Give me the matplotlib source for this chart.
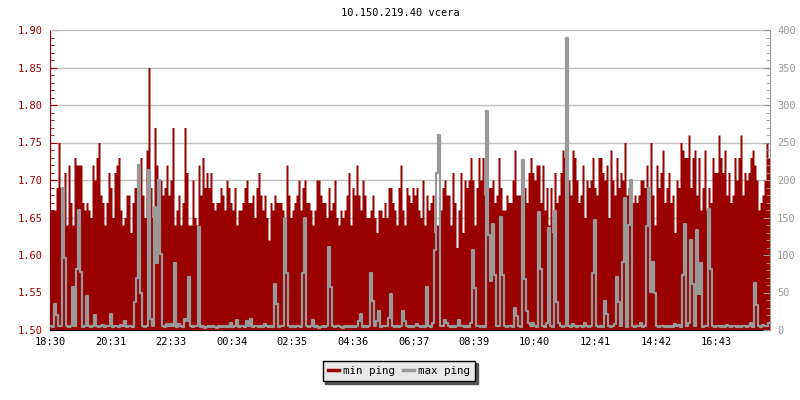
import numpy as np
import matplotlib.pyplot as plt
from matplotlib.lines import Line2D

# one sample every 4 minutes, 18:30 .. 18:30 next day
STEP_MIN = 4

# min ping in hundredths above 1.00 (66 -> 1.66 ms)
min_ping_cs = [
    66, 66, 66, 69, 75, 69, 67, 71, 64, 72, 67, 64, 73, 72, 72, 72, 67, 66, 67, 66,
    65, 72, 70, 73, 75, 68, 67, 64, 67, 71, 69, 65, 71, 72, 73, 66, 64, 65, 68, 68,
    63, 67, 69, 69, 67, 73, 68, 65, 74, 85, 69, 65, 77, 72, 64, 70, 68, 69, 72, 68,
    70, 77, 64, 66, 68, 64, 67, 77, 71, 64, 64, 70, 65, 64, 72, 68, 73, 69, 71, 69,
    71, 67, 66, 67, 67, 69, 68, 66, 70, 69, 67, 66, 69, 64, 66, 66, 67, 69, 70, 67,
    67, 68, 65, 69, 71, 68, 66, 68, 65, 62, 67, 66, 68, 67, 67, 67, 66, 65, 72, 68,
    65, 66, 67, 68, 70, 66, 69, 70, 67, 67, 66, 64, 66, 70, 70, 68, 67, 67, 65, 69,
    66, 67, 70, 65, 64, 66, 65, 66, 68, 71, 64, 69, 68, 72, 68, 66, 70, 68, 65, 65,
    66, 68, 65, 63, 66, 66, 65, 67, 65, 69, 69, 67, 66, 64, 69, 72, 66, 64, 69, 68,
    67, 69, 68, 69, 66, 65, 70, 64, 68, 66, 67, 68, 63, 64, 64, 66, 69, 70, 68, 68,
    64, 71, 67, 61, 66, 71, 63, 70, 69, 70, 73, 70, 64, 69, 73, 70, 73, 68, 67, 69,
    69, 70, 67, 68, 73, 69, 66, 66, 68, 67, 67, 70, 74, 68, 68, 68, 66, 69, 67, 71,
    73, 71, 70, 72, 72, 67, 72, 66, 69, 64, 69, 63, 71, 67, 68, 71, 74, 73, 67, 70,
    68, 74, 73, 70, 67, 68, 72, 65, 70, 69, 70, 73, 69, 68, 73, 73, 71, 70, 72, 65,
    74, 70, 68, 73, 69, 71, 70, 75, 68, 69, 70, 67, 68, 67, 68, 70, 70, 69, 72, 69,
    75, 68, 64, 72, 69, 71, 74, 67, 69, 71, 67, 68, 63, 70, 69, 75, 74, 73, 73, 76,
    69, 73, 74, 68, 73, 66, 69, 74, 66, 69, 67, 73, 71, 71, 76, 73, 71, 74, 68, 71,
    67, 68, 73, 70, 73, 76, 68, 71, 70, 71, 73, 74, 72, 70, 66, 67, 68, 70, 75, 73,
]

# max ping in ms (right axis)
max_ping = [
    5, 4, 35, 20, 6, 5, 189, 96, 5, 4, 6, 58, 5, 82, 160, 78, 4, 6, 45, 5,
    4, 5, 20, 6, 4, 5, 7, 4, 5, 6, 22, 4, 5, 6, 4, 7, 5, 12, 4, 5,
    6, 4, 38, 69, 220, 49, 5, 4, 6, 213, 15, 5, 164, 89, 200, 102, 6, 4, 8, 5,
    8, 5, 89, 4, 8, 5, 4, 15, 12, 71, 5, 4, 6, 5, 138, 4, 5, 3, 4, 6,
    4, 5, 4, 3, 5, 4, 6, 4, 5, 4, 10, 4, 5, 14, 4, 6, 5, 4, 12, 5,
    15, 4, 5, 6, 4, 5, 4, 8, 5, 4, 5, 4, 62, 35, 4, 5, 6, 149, 76, 5,
    4, 5, 4, 6, 5, 4, 76, 149, 5, 4, 5, 14, 4, 5, 3, 4, 5, 4, 6, 111,
    58, 5, 4, 6, 5, 4, 3, 5, 4, 5, 4, 5, 4, 5, 12, 22, 4, 5, 4, 6,
    76, 39, 5, 12, 25, 4, 5, 6, 5, 16, 48, 5, 4, 5, 4, 6, 26, 12, 5, 4,
    5, 4, 6, 8, 5, 4, 5, 4, 58, 5, 4, 10, 107, 209, 260, 6, 5, 14, 9, 5,
    4, 5, 4, 6, 14, 6, 5, 4, 5, 4, 9, 107, 56, 5, 6, 4, 5, 4, 292, 127,
    66, 142, 73, 5, 6, 151, 73, 5, 4, 6, 5, 4, 30, 19, 5, 4, 227, 68, 26, 10,
    6, 10, 5, 4, 158, 81, 5, 4, 9, 136, 5, 4, 159, 38, 10, 5, 4, 6, 390, 5,
    4, 8, 5, 4, 6, 5, 4, 9, 5, 4, 5, 76, 147, 6, 4, 5, 4, 39, 22, 5,
    4, 6, 8, 71, 38, 5, 91, 176, 4, 140, 200, 5, 4, 6, 5, 9, 4, 5, 139, 189,
    51, 91, 49, 5, 4, 6, 5, 4, 5, 4, 5, 4, 8, 5, 7, 4, 74, 142, 5, 10,
    120, 62, 5, 134, 48, 89, 4, 5, 6, 162, 82, 5, 4, 6, 5, 4, 5, 4, 7, 5,
    4, 6, 5, 4, 5, 4, 6, 5, 4, 5, 9, 4, 63, 34, 5, 4, 7, 5, 6, 9,
]

time_labels = ['18:30', '20:31', '22:33', '00:34', '02:35', '04:36',
               '06:37', '08:39', '10:40', '12:41', '14:42', '16:43']
TICK_STEP_MIN = 121.2

RED = '#990000'
GREY = '#999999'


def main():
    plt.rcParams['font.family'] = 'DejaVu Sans Mono'
    plt.rcParams['font.size'] = 7.5

    mn = 1 + np.array(min_ping_cs) / 100.0
    mx = np.array(max_ping, dtype=float)
    edges = np.arange(len(mn) + 1) * STEP_MIN

    fig = plt.figure(figsize=(8, 4), dpi=100)
    ax = fig.add_axes([0.0625, 0.175, 0.9, 0.75])
    ax.set_axisbelow(True)
    ax.fill_between(edges, np.append(mn, mn[-1]), 1.5, step='post',
                    color=RED, linewidth=0)
    ax.set_xlim(0, edges[-1])
    ax.set_ylim(1.5, 1.9)
    ax.set_yticks(np.arange(1.5, 1.901, 0.05))
    ax.set_yticks(np.arange(1.5, 1.901, 0.01), minor=True)
    ax.yaxis.set_major_formatter(plt.FormatStrFormatter('%.2f'))
    ax.yaxis.grid(True, color='#c0c0c0', linewidth=1)
    ax.set_xticks(np.arange(len(time_labels)) * TICK_STEP_MIN)
    ax.set_xticklabels(time_labels)
    ax.tick_params(axis='y', which='both', direction='in', colors=RED, pad=5)
    ax.tick_params(axis='y', which='major', length=5)
    ax.tick_params(axis='y', which='minor', length=3)
    ax.tick_params(axis='x', direction='in', length=4, colors='black', pad=5)
    ax.spines['left'].set_color(RED)
    ax.spines['bottom'].set_color('black')
    ax.spines['top'].set_color('#c0c0c0')
    ax.spines['right'].set_visible(False)

    ax2 = ax.twinx()
    ax2.step(edges, np.append(mx, mx[-1]), where='post', color=GREY,
             linewidth=1.6)
    ax2.set_ylim(0, 400)
    ax2.set_yticks(np.arange(0, 401, 50))
    ax2.set_yticks(np.arange(0, 401, 10), minor=True)
    ax2.tick_params(axis='y', which='both', direction='in', colors=GREY, pad=5)
    ax2.tick_params(axis='y', which='major', length=5)
    ax2.tick_params(axis='y', which='minor', length=3)
    for side in ('left', 'top', 'bottom'):
        ax2.spines[side].set_visible(False)
    ax2.spines['right'].set_color(GREY)

    fig.text(0.5, 1 - 13 / 400, '10.150.219.40 vcera', ha='center',
             va='center')

    handles = [Line2D([], [], color=RED, linewidth=2.5),
               Line2D([], [], color=GREY, linewidth=2.5)]
    fig.legend(handles, ['min ping', 'max ping'], loc='center',
               bbox_to_anchor=(399 / 800, 1 - 371 / 400), ncol=2,
               fancybox=False, shadow={'color': '#555555', 'alpha': 1},
               facecolor='#e8e8e8', edgecolor='black', framealpha=1,
               handlelength=1.0, handletextpad=0.4, columnspacing=0.7,
               borderpad=0.5, fontsize=7.8)

    fig.savefig('out.png', dpi=100)


if __name__ == '__main__':
    main()
